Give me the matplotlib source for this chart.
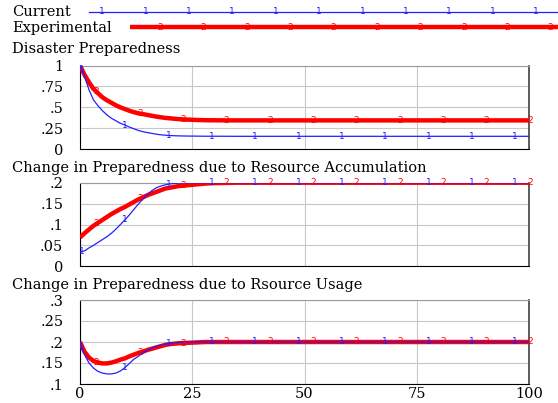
import numpy as np
import matplotlib
matplotlib.use("Agg")
import matplotlib.pyplot as plt

# ---------------- data ----------------
time = [0, 1, 2, 3, 4, 5, 6, 7, 8, 9, 10, 11, 12, 13, 14, 15, 16, 17, 18, 19, 20,
        22, 24, 26, 28, 30, 35, 40, 50, 60, 70, 80, 90, 100]

prep_current = [1.0, 0.87, 0.71, 0.59, 0.52, 0.46, 0.41, 0.37, 0.34, 0.31, 0.29, 0.265, 0.245,
                0.225, 0.21, 0.20, 0.19, 0.18, 0.173, 0.168, 0.164, 0.160, 0.158, 0.157, 0.156,
                0.156, 0.155, 0.155, 0.155, 0.155, 0.155, 0.155, 0.155, 0.155]
prep_experimental = [1.0, 0.89, 0.80, 0.72, 0.67, 0.62, 0.585, 0.555, 0.525, 0.50, 0.48, 0.46,
                     0.443, 0.43, 0.42, 0.41, 0.40, 0.39, 0.382, 0.375, 0.37, 0.36, 0.354, 0.35,
                     0.347, 0.346, 0.345, 0.345, 0.345, 0.345, 0.345, 0.345, 0.345, 0.345]

accum_current = [0.034, 0.037, 0.044, 0.050, 0.057, 0.064, 0.071, 0.079, 0.089, 0.100, 0.111,
                 0.123, 0.136, 0.149, 0.161, 0.172, 0.181, 0.188, 0.192, 0.195, 0.197, 0.199,
                 0.2, 0.2, 0.2, 0.2, 0.2, 0.2, 0.2, 0.2, 0.2, 0.2, 0.2, 0.2]
accum_experimental = [0.069, 0.079, 0.088, 0.097, 0.104, 0.111, 0.118, 0.125, 0.131, 0.137,
                      0.142, 0.148, 0.154, 0.160, 0.165, 0.170, 0.174, 0.178, 0.182, 0.186,
                      0.188, 0.192, 0.194, 0.196, 0.198, 0.199, 0.2, 0.2, 0.2, 0.2, 0.2, 0.2,
                      0.2, 0.2]

usage_current = [0.2, 0.170, 0.150, 0.138, 0.130, 0.126, 0.124, 0.124, 0.126, 0.131, 0.139,
                 0.149, 0.159, 0.166, 0.174, 0.180, 0.186, 0.190, 0.193, 0.195, 0.197, 0.199,
                 0.2, 0.2, 0.2, 0.2, 0.2, 0.2, 0.2, 0.2, 0.2, 0.2, 0.2, 0.2]
usage_experimental = [0.2, 0.177, 0.163, 0.155, 0.151, 0.149, 0.149, 0.151, 0.154, 0.158,
                      0.161, 0.166, 0.170, 0.174, 0.177, 0.181, 0.184, 0.187, 0.190, 0.193,
                      0.195, 0.197, 0.198, 0.199, 0.2, 0.2, 0.2, 0.2, 0.2, 0.2, 0.2, 0.2,
                      0.2, 0.2]

titles = ["Disaster Preparedness",
          "Change in Preparedness due to Resource Accumulation",
          "Change in Preparedness due to Rsource Usage"]
series_names = ["Current", "Experimental"]
x_ticks = [0, 25, 50, 75, 100]
x_ticklabels = ["0", "25", "50", "75", "100"]
y_ticks = [[0, 0.25, 0.5, 0.75, 1.0], [0, 0.05, 0.1, 0.15, 0.2], [0.1, 0.15, 0.2, 0.25, 0.3]]
y_ticklabels = [["0", ".25", ".5", ".75", "1"],
                ["0", ".05", ".1", ".15", ".2"],
                [".1", ".15", ".2", ".25", ".3"]]

panels = [(prep_current, prep_experimental),
          (accum_current, accum_experimental),
          (usage_current, usage_experimental)]

# ---------------- style ----------------
W, H = 558, 403
BLUE = "#2020ff"
RED = "#ff0000"
SERIF = "DejaVu Serif"
FS = 10.5
MFS = 6.5

fig = plt.figure(figsize=(W / 100, H / 100), dpi=100)

def fx(px):
    return px / W

def fy(py):
    return 1 - py / H

ax_left, ax_right = 80, 529
panel_px = [(65.5, 149.3), (182.7, 266.3), (300, 384)]
title_y = [49, 168, 285]

marker_step = 9.65
blue_off, red_off = 0.4, 3.7

for i, ((cur, exp_), (top, bot)) in enumerate(zip(panels, panel_px)):
    ax = fig.add_axes([fx(ax_left), fy(bot), fx(ax_right - ax_left), (bot - top) / H])
    ax.plot(time, exp_, color=RED, lw=3.2, solid_capstyle="butt", zorder=3)
    ax.plot(time, cur, color=BLUE, lw=0.9, zorder=4)
    bm = blue_off + marker_step * np.arange(11)
    rm = red_off + marker_step * np.arange(11)
    for t in bm:
        ax.text(t, np.interp(t, time, cur), "1", color=BLUE, fontsize=MFS,
                ha="center", va="center", zorder=5, clip_on=False)
    for t in rm:
        ax.text(t, np.interp(t, time, exp_), "2", color=RED, fontsize=MFS,
                ha="center", va="center", zorder=5, clip_on=False)
    ax.set_xlim(0, 100)
    ax.set_ylim(y_ticks[i][0], y_ticks[i][-1])
    ax.set_xticks(x_ticks)
    ax.set_yticks(y_ticks[i])
    ax.set_yticklabels(y_ticklabels[i], fontfamily=SERIF, fontsize=FS)
    if i == 2:
        ax.set_xticklabels(x_ticklabels, fontfamily=SERIF, fontsize=FS)
    else:
        ax.set_xticklabels([])
    ax.tick_params(length=0, pad=12, axis="y")
    ax.tick_params(length=0, pad=2, axis="x")
    ax.grid(True, color="#c8c8c8", lw=0.8)
    ax.set_axisbelow(True)
    ax.spines["left"].set_color("black")
    ax.spines["bottom"].set_color("black")
    ax.spines["top"].set_color("#9a9a9a")
    ax.spines["right"].set_color("#404040")
    ax.spines["right"].set_linewidth(1.2)
    fig.text(fx(12), fy(title_y[i]), titles[i], fontfamily=SERIF, fontsize=FS,
             ha="left", va="center")

# ---------------- legend ----------------
lg = fig.add_axes([0, fy(40), 1, 40 / H])
lg.set_xlim(0, W)
lg.set_ylim(40, 0)
lg.axis("off")
lg.plot([89, W], [12, 12], color=BLUE, lw=0.9)
lg.plot([130, W], [26.5, 26.5], color=RED, lw=3.2, solid_capstyle="butt")
for k in range(11):
    lg.text(102 + 43.4 * k, 12, "1", color=BLUE, fontsize=MFS, ha="center", va="center")
for k in range(10):
    lg.text(160 + 43.4 * k, 27.5, "2", color=RED, fontsize=MFS, ha="center", va="center")
fig.text(fx(12), fy(12.5), series_names[0], fontfamily=SERIF, fontsize=FS, ha="left", va="center")
fig.text(fx(12), fy(28), series_names[1], fontfamily=SERIF, fontsize=FS, ha="left", va="center")

fig.savefig("out.png", dpi=100)
